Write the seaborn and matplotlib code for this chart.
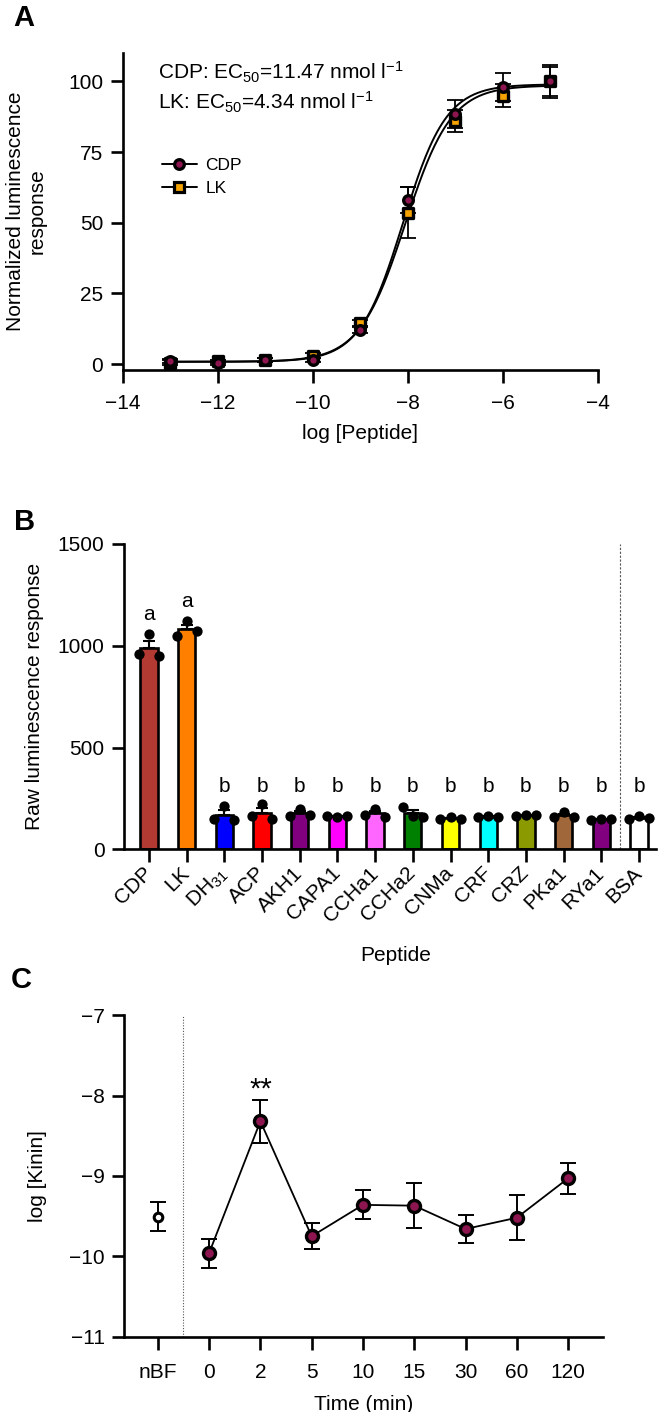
import warnings

import matplotlib
matplotlib.use("Agg")
import matplotlib.pyplot as plt
from matplotlib.lines import Line2D
import numpy as np
import pandas as pd
import seaborn as sns

warnings.filterwarnings("ignore")

# Panel A: concentration-response
log_conc = [-13, -12, -11, -10, -9, -8, -7, -6, -5]
cdp_resp = [1.0, 0.3, 1.5, 1.5, 12.0, 58.0, 88.5, 98.0, 100.0]
cdp_sem = [0.8, 0.5, 0.8, 0.8, 1.2, 4.5, 5.0, 5.0, 6.0]
lk_resp = [0.5, 1.0, 1.5, 3.0, 14.5, 53.5, 86.0, 95.0, 100.0]
lk_sem = [0.8, 0.5, 0.8, 1.0, 1.2, 9.0, 4.0, 4.0, 5.0]
# fitted Hill curves: bottom, top, logEC50, hill slope
cdp_fit = [0.8, 99.0, -8.1, 0.95]
lk_fit = [0.8, 98.6, -8.05, 0.9]

# Panel B: peptide screen (three replicates each, left / middle / right)
peptides = ["CDP", "LK", "DH$_{31}$", "ACP", "AKH1", "CAPA1", "CCHa1", "CCHa2",
            "CNMa", "CRF", "CRZ", "PKa1", "RYa1", "BSA"]
replicates = [
    [960, 1060, 950],
    [1050, 1120, 1070],
    [150, 215, 145],
    [165, 225, 150],
    [165, 200, 170],
    [165, 160, 162],
    [170, 200, 160],
    [210, 165, 160],
    [150, 160, 148],
    [158, 165, 160],
    [165, 170, 168],
    [160, 185, 158],
    [145, 150, 148],
    [150, 165, 155],
]
sig_letters = ["a", "a", "b", "b", "b", "b", "b", "b", "b", "b", "b", "b", "b", "b"]
bar_colors = ["#B33A33", "#FF8000", "#0000FF", "#FF0000", "#800080", "#FF00FF",
              "#FF66FF", "#008000", "#FFFF00", "#00FFFF", "#8A9A00", "#A0683A",
              "#800080", "#FFFFFF"]

# Panel C: kinin titre over time
time_labels = ["nBF", "0", "2", "5", "10", "15", "30", "60", "120"]
kinin_log = [-9.51, -9.96, -8.32, -9.75, -9.36, -9.37, -9.66, -9.52, -9.03]
kinin_sem = [0.18, 0.18, 0.27, 0.16, 0.18, 0.28, 0.18, 0.28, 0.19]

MAROON = "#8E1650"
ORANGE = "#F5A300"
LW = 1.9

sns.set_theme(style="ticks")
plt.rcParams.update({
    "font.family": ["Liberation Sans", "DejaVu Sans"],
    "mathtext.fontset": "custom",
    "mathtext.rm": "Liberation Sans",
    "mathtext.it": "Liberation Sans:italic",
    "mathtext.bf": "Liberation Sans:bold",
    "axes.linewidth": LW,
    "xtick.major.width": LW,
    "ytick.major.width": LW,
    "xtick.major.size": 9,
    "ytick.major.size": 9,
    "xtick.labelsize": 15,
    "ytick.labelsize": 15,
    "axes.labelsize": 15,
    "text.color": "black",
    "axes.labelcolor": "black",
    "xtick.color": "black",
    "ytick.color": "black",
    "axes.edgecolor": "black",
})

fig = plt.figure(figsize=(6.69, 14.12), dpi=100)
ax_a = fig.add_axes([0.1834, 0.7380, 0.710, 0.2243])
ax_b = fig.add_axes([0.1853, 0.3984, 0.7952, 0.2164])
ax_c = fig.add_axes([0.1853, 0.0533, 0.716, 0.2278])


def hill(x, params):
    bottom, top, logec50, slope = params
    return bottom + (top - bottom) / (1 + 10 ** ((logec50 - x) * slope))


# ---- A ----
x_fit = np.linspace(log_conc[0], log_conc[-1], 300)
curves = pd.concat([
    pd.DataFrame({"x": x_fit, "y": hill(x_fit, lk_fit), "s": "LK"}),
    pd.DataFrame({"x": x_fit, "y": hill(x_fit, cdp_fit), "s": "CDP"}),
])
sns.lineplot(data=curves, x="x", y="y", units="s", estimator=None,
             color="black", lw=1.4, ax=ax_a, zorder=2)

for resp, sem, marker, face in [(lk_resp, lk_sem, "s", ORANGE),
                                (cdp_resp, cdp_sem, "o", MAROON)]:
    ax_a.errorbar(log_conc, resp, yerr=sem, fmt="none", ecolor="black",
                  elinewidth=1.3, capsize=5.5, capthick=1.3, zorder=3)
    sns.scatterplot(x=log_conc, y=resp, marker=marker, color=face, s=48,
                    edgecolor="black", linewidth=2.4, ax=ax_a, zorder=4)

ax_a.set_xlim(-14, -4)
ax_a.set_ylim(-2.1, 110)
ax_a.set_xticks(range(-14, -3, 2))
ax_a.set_yticks([0, 25, 50, 75, 100])
ax_a.tick_params(axis="y", pad=5)
ax_a.tick_params(axis="x", pad=8)
ax_a.set_xlabel("log [Peptide]")
ax_a.set_ylabel("Normalized luminescence\nresponse", linespacing=1.2)
ax_a.xaxis.set_label_coords(0.5, -0.17)
ax_a.yaxis.set_label_coords(-0.16, 0.502)

ax_a.text(0.074, 0.941, "CDP: EC$_{50}$=11.47 nmol l$^{-1}$", transform=ax_a.transAxes,
          fontsize=15, va="center", ha="left")
ax_a.text(0.074, 0.846, "LK: EC$_{50}$=4.34 nmol l$^{-1}$", transform=ax_a.transAxes,
          fontsize=15, va="center", ha="left")

handles = [
    Line2D([], [], color="black", lw=1.4, marker="o", markersize=7,
           markerfacecolor=MAROON, markeredgecolor="black", markeredgewidth=2.3),
    Line2D([], [], color="black", lw=1.4, marker="s", markersize=7,
           markerfacecolor=ORANGE, markeredgecolor="black", markeredgewidth=2.3),
]
ax_a.legend(handles, ["CDP", "LK"], loc="upper left", bbox_to_anchor=(0.05, 0.72),
            frameon=False, fontsize=12.5, handlelength=2.0, handletextpad=0.5,
            labelspacing=0.45)

# ---- B ----
screen = pd.DataFrame({
    "peptide": np.repeat(peptides, [len(r) for r in replicates]),
    "rep": np.concatenate([np.arange(len(r)) for r in replicates]),
    "value": np.concatenate(replicates),
})
sns.barplot(data=screen, x="peptide", y="value", hue="peptide", order=peptides,
            hue_order=peptides, palette=bar_colors, saturation=1, legend=False,
            errorbar=None, width=0.46, edgecolor="black", linewidth=LW, ax=ax_b,
            zorder=2)
means = screen.groupby("peptide", sort=False)["value"].mean().reindex(peptides)
sems = screen.groupby("peptide", sort=False)["value"].sem().reindex(peptides)
pos = np.arange(len(peptides))
ax_b.errorbar(pos, means.values, yerr=[np.zeros(len(pos)), sems.values], fmt="none",
              ecolor="black", elinewidth=1.5, capsize=4, capthick=1.5, zorder=3)
sns.stripplot(data=screen, x="peptide", y="value", order=peptides, hue="rep",
              palette=["black"] * 3, dodge=True, jitter=False, size=7.4,
              legend=False, ax=ax_b, zorder=4)
for i, (letter, reps) in enumerate(zip(sig_letters, replicates)):
    y = max(reps) + 95 if letter == "a" else 310
    ax_b.text(i, y, letter, ha="center", va="center", fontsize=15)

ax_b.axvline(12.5, ymin=0, ymax=1, color="#555555", lw=0.8, ls=(0, (2, 1.5)), zorder=1)
ax_b.set_xlim(-0.663, 13.45)
ax_b.set_ylim(0, 1500)
ax_b.set_yticks([0, 500, 1000, 1500])
ax_b.tick_params(axis="y", pad=5)
ax_b.set_xticks(pos)
ax_b.set_xticklabels(peptides, rotation=45, ha="right", va="center",
                     rotation_mode="anchor")
ax_b.tick_params(axis="x", pad=6)
ax_b.set_xlabel("Peptide")
ax_b.set_ylabel("Raw luminescence response")
ax_b.xaxis.set_label_coords(0.511, -0.315)
ax_b.yaxis.set_label_coords(-0.15, 0.5)

# ---- C ----
tpos = np.arange(len(time_labels))
ax_c.errorbar(tpos, kinin_log, yerr=kinin_sem, fmt="none", ecolor="black",
              elinewidth=1.4, capsize=6, capthick=1.4, zorder=3)
sns.lineplot(x=tpos[1:], y=kinin_log[1:], color="black", lw=1.3, ax=ax_c, zorder=2)
sns.scatterplot(x=tpos[1:], y=kinin_log[1:], marker="o", color=MAROON, s=75,
                edgecolor="black", linewidth=2.4, ax=ax_c, zorder=4)
sns.scatterplot(x=tpos[:1], y=kinin_log[:1], marker="o", color="white", s=38,
                edgecolor="black", linewidth=2.2, ax=ax_c, zorder=4)
ax_c.text(tpos[2], kinin_log[2] + kinin_sem[2] + 0.12, "**", ha="center", va="center",
          fontsize=21)
ax_c.axvline(0.5, color="#555555", lw=0.8, ls=(0, (1, 1.5)), zorder=1)
ax_c.set_xlim(-0.66, 8.68)
ax_c.set_ylim(-11, -7)
ax_c.set_yticks([-11, -10, -9, -8, -7])
ax_c.set_xticks(tpos)
ax_c.set_xticklabels(time_labels)
ax_c.tick_params(axis="y", pad=5)
ax_c.tick_params(axis="x", pad=10)
ax_c.set_xlabel("Time (min)")
ax_c.set_ylabel("log [Kinin]")
ax_c.xaxis.set_label_coords(0.501, -0.18)
ax_c.yaxis.set_label_coords(-0.16, 0.5)

for ax in (ax_a, ax_b, ax_c):
    sns.despine(ax=ax)

fig.text(0.035, 1 - 17.5 / 1412, "A", fontsize=21, fontweight="bold", ha="center", va="center")
fig.text(0.036, 1 - 522 / 1412, "B", fontsize=21, fontweight="bold", ha="center", va="center")
fig.text(0.032, 1 - 980 / 1412, "C", fontsize=21, fontweight="bold", ha="center", va="center")

fig.savefig("out.png", dpi=100)
